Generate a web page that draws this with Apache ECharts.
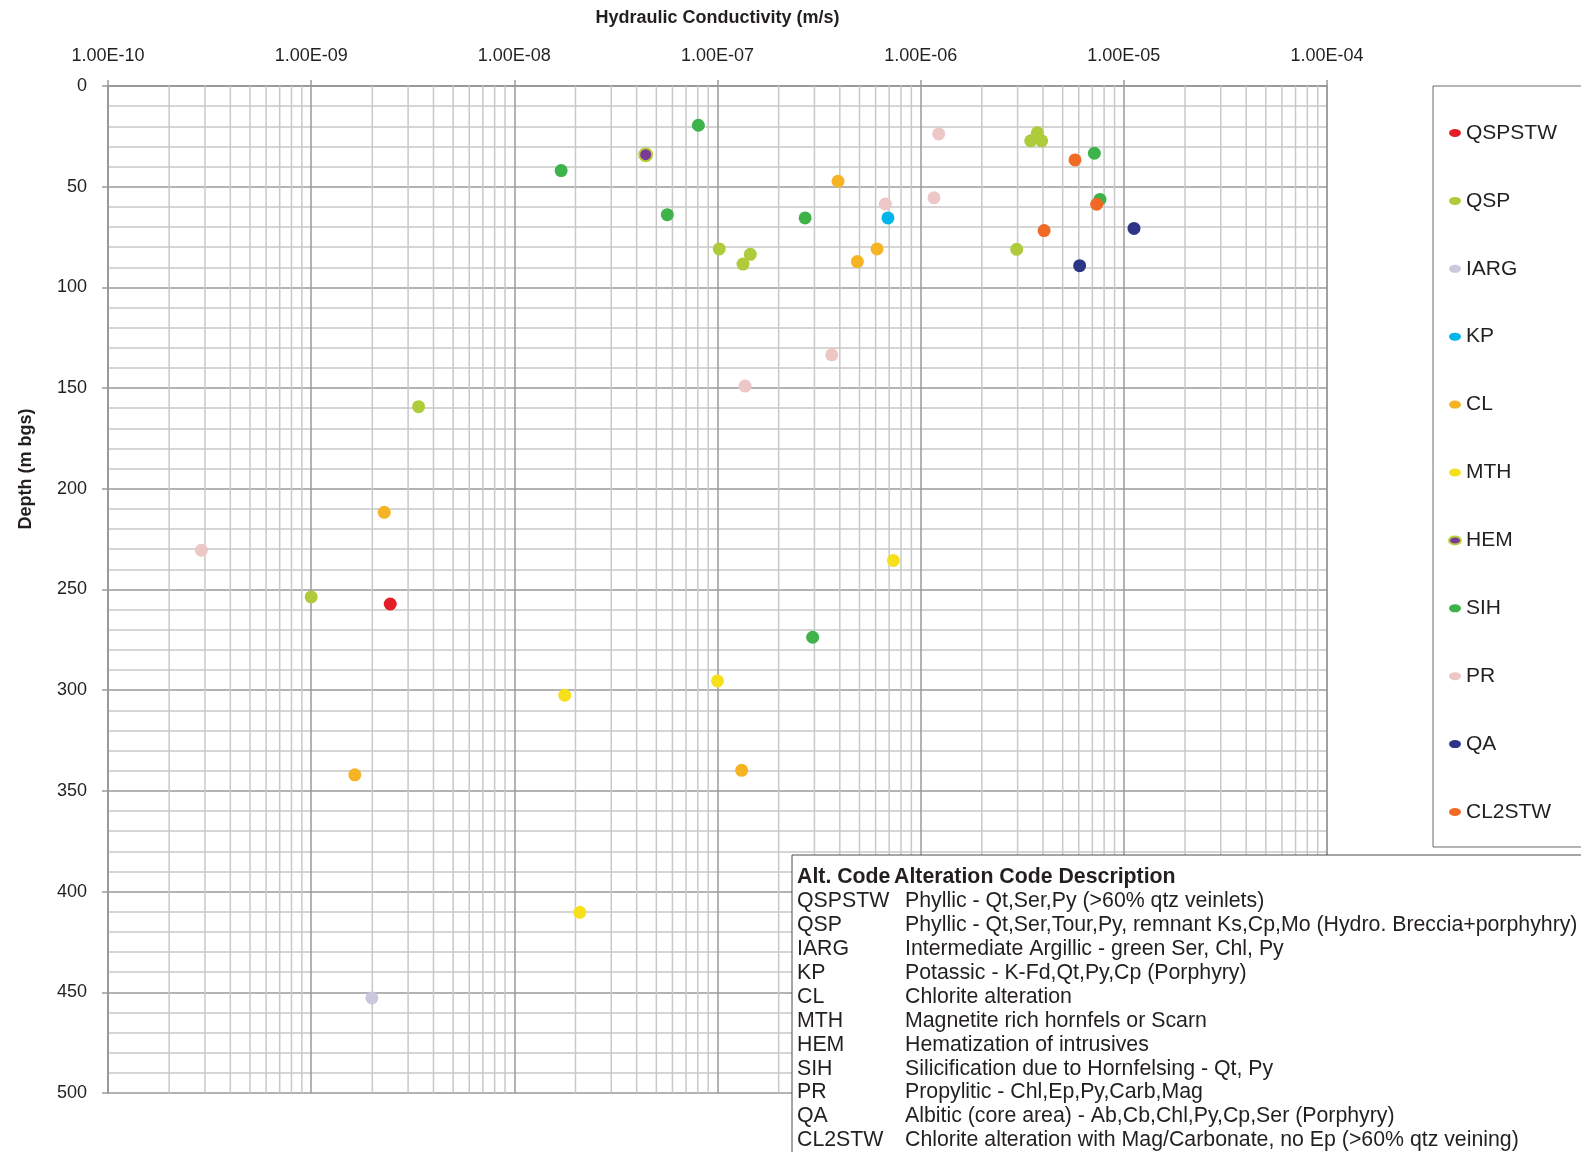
<!DOCTYPE html>
<html>
<head>
<meta charset="utf-8">
<title>Hydraulic Conductivity vs Depth</title>
<script src="https://cdn.jsdelivr.net/npm/echarts@6/dist/echarts.min.js"></script>
<style>
  html, body { margin: 0; padding: 0; background: #fff; }
  #chart { width: 1581px; height: 1152px; }
</style>
</head>
<body>
<div id="chart"></div>
<script>
// Alteration codes (legend order) and their descriptions
const codes = ['QSPSTW', 'QSP', 'IARG', 'KP', 'CL', 'MTH', 'HEM', 'SIH', 'PR', 'QA', 'CL2STW'];
const descriptions = [
  'Phyllic - Qt,Ser,Py (>60% qtz veinlets)',
  'Phyllic - Qt,Ser,Tour,Py, remnant Ks,Cp,Mo (Hydro. Breccia+porphyhry)',
  'Intermediate Argillic - green Ser, Chl, Py',
  'Potassic - K-Fd,Qt,Py,Cp (Porphyry)',
  'Chlorite alteration',
  'Magnetite rich hornfels or Scarn',
  'Hematization of intrusives',
  'Silicification due to Hornfelsing - Qt, Py',
  'Propylitic - Chl,Ep,Py,Carb,Mag',
  'Albitic (core area) - Ab,Cb,Chl,Py,Cp,Ser (Porphyry)',
  'Chlorite alteration with Mag/Carbonate, no Ep (>60% qtz veining)'
];

// [hydraulic conductivity (m/s), depth (m bgs)]
const QSPSTW = [[2.45e-9, 257.2]];
const QSP = [[3.75e-6, 23.2], [3.48e-6, 27.2], [3.94e-6, 27.2], [2.97e-6, 81.1], [1.02e-7, 80.9],
             [1.45e-7, 83.6], [1.335e-7, 88.4], [3.38e-9, 159.2], [1.0e-9, 253.7]];
const IARG = [[1.99e-9, 452.8]];
const KP = [[6.9e-7, 65.5]];
const CL = [[3.92e-7, 47.3], [6.1e-7, 80.9], [4.88e-7, 87.2], [2.29e-9, 211.7], [1.64e-9, 342.0], [1.315e-7, 339.8]];
const MTH = [[7.34e-7, 235.6], [1.0e-7, 295.4], [1.77e-8, 302.5], [2.1e-8, 410.3]];
const HEM = [[4.43e-8, 34.1]];
const SIH = [[8.05e-8, 19.5], [1.7e-8, 42.0], [5.66e-8, 63.9], [2.7e-7, 65.5], [7.16e-6, 33.4],
             [7.63e-6, 56.3], [2.94e-7, 273.7]];
const PR = [[1.227e-6, 23.8], [6.7e-7, 58.6], [1.163e-6, 55.5], [3.65e-7, 133.5], [1.367e-7, 149.0], [2.88e-10, 230.5]];
const QA = [[1.122e-5, 70.7], [6.06e-6, 89.2]];
const CL2STW = [[5.75e-6, 36.7], [4.05e-6, 71.8], [7.35e-6, 58.7]];

const seriesData = [QSPSTW, QSP, IARG, KP, CL, MTH, HEM, SIH, PR, QA, CL2STW];
const colors = ['#e31e26', '#aecb3c', '#c9c8dc', '#00b5e8', '#f6b424', '#f6e01c', '#7a3b96',
                '#3db34a', '#ecc7c6', '#2d3587', '#f06a25'];

// Axis range: decades of conductivity, depth in metres
const kMin = 1e-10, kMax = 1e-4;
const depthMin = 0, depthMax = 500, depthStep = 50;

// Intermediate log gridlines (2..9 × 10^n)
const minorK = [];
for (let e = -10; e < -4; e++) {
  for (let m = 2; m <= 9; m++) minorK.push(m * Math.pow(10, e));
}

const FONT = '"Liberation Sans", Arial, sans-serif';
const minorColor = '#c8c8c8';
const majorColor = '#9a9a9a';

function sciLabel(v) {
  const e = Math.round(Math.log10(v));
  const m = v / Math.pow(10, e);
  const ae = Math.abs(e);
  return m.toFixed(2) + 'E' + (e < 0 ? '-' : '+') + (ae < 10 ? '0' + ae : '' + ae);
}

const series = codes.map((name, i) => {
  const s = {
    name: name,
    type: 'scatter',
    data: seriesData[i],
    symbol: 'circle',
    symbolSize: 13,
    z: 3,
    itemStyle: { color: colors[i], opacity: 1 },
    emphasis: { disabled: true },
    animation: false
  };
  if (name === 'HEM') {
    s.itemStyle.borderColor = '#b9cf3f';
    s.itemStyle.borderWidth = 2;
  }
  return s;
});

// Minor vertical gridlines, placed through the log axis
series.unshift({
  name: 'minorGrid',
  type: 'custom',
  silent: true,
  z: 1,
  animation: false,
  data: minorK.map(v => [v, depthMin]),
  encode: { x: 0, y: 1 },
  renderItem: function (params, api) {
    const v = api.value(0);
    const p1 = api.coord([v, depthMin]);
    const p2 = api.coord([v, depthMax]);
    return {
      type: 'line',
      shape: { x1: p1[0], y1: p1[1], x2: p2[0], y2: p2[1] },
      style: { stroke: minorColor, lineWidth: 1.5 }
    };
  }
});

// Legend frame and table of alteration codes
const tableX = 792, tableY = 855;
const rowTop = 901.4, rowStep = 23.9;
const graphics = [
  { type: 'rect', z: 100, shape: { x: 1433, y: 86, width: 170, height: 761 },
    style: { fill: '#fff', stroke: '#6b6b6b', lineWidth: 1 } },
  { type: 'rect', z: 100, shape: { x: tableX, y: tableY, width: 820, height: 320 },
    style: { fill: '#fff', stroke: '#4d4d4d', lineWidth: 1 } },
  { type: 'text', z: 101, style: { text: 'Alt. Code', x: 797, y: 877.5, font: 'bold 21.3px ' + FONT,
    fill: '#231f20', verticalAlign: 'middle', align: 'left' } },
  { type: 'text', z: 101, style: { text: 'Alteration Code Description', x: 894, y: 877.5, font: 'bold 21.3px ' + FONT,
    fill: '#231f20', verticalAlign: 'middle', align: 'left' } },
  { type: 'text', z: 101, rotation: Math.PI / 2, x: 26, y: 469,
    style: { text: 'Depth (m bgs)', x: 0, y: 0, font: 'bold 18px ' + FONT,
      fill: '#231f20', verticalAlign: 'middle', align: 'center' } }
];
codes.forEach((c, i) => {
  const y = rowTop + i * rowStep;
  graphics.push({ type: 'text', z: 101, style: { text: c, x: 797, y: y, font: '21.3px ' + FONT,
    fill: '#231f20', verticalAlign: 'middle', align: 'left' } });
  graphics.push({ type: 'text', z: 101, style: { text: descriptions[i], x: 905, y: y, font: '21.3px ' + FONT,
    fill: '#231f20', verticalAlign: 'middle', align: 'left' } });
});

const chart = echarts.init(document.getElementById('chart'), null, { renderer: 'canvas' });
chart.setOption({
  backgroundColor: '#fff',
  animation: false,
  textStyle: { fontFamily: FONT },
  grid: { left: 108, right: 254, top: 86, bottom: 59, containLabel: false, outerBoundsMode: 'none' },
  xAxis: {
    type: 'log',
    logBase: 10,
    position: 'top',
    min: kMin,
    max: kMax,
    splitNumber: 6,
    name: 'Hydraulic Conductivity (m/s)',
    nameLocation: 'middle',
    nameGap: 59,
    nameTextStyle: { fontFamily: FONT, fontWeight: 'bold', fontSize: 18, color: '#231f20' },
    axisLine: { show: true, lineStyle: { color: majorColor, width: 2 } },
    axisTick: { show: true, inside: false, length: 6, lineStyle: { color: majorColor, width: 1.5 } },
    axisLabel: { fontFamily: FONT, fontSize: 18, color: '#231f20', margin: 21,
                 showMinLabel: true, showMaxLabel: true, formatter: sciLabel },
    splitLine: { show: true, lineStyle: { color: majorColor, width: 1.5 } }
  },
  yAxis: {
    type: 'value',
    inverse: true,
    min: depthMin,
    max: depthMax,
    interval: depthStep,
    axisLine: { show: true, lineStyle: { color: majorColor, width: 2 } },
    axisTick: { show: true, inside: false, length: 6, lineStyle: { color: majorColor, width: 1.5 } },
    axisLabel: { fontFamily: FONT, fontSize: 18, color: '#231f20', margin: 21 },
    splitLine: { show: true, lineStyle: { color: majorColor, width: 1.5 } },
    minorTick: { show: false, splitNumber: 5 },
    minorSplitLine: { show: true, lineStyle: { color: minorColor, width: 1.5 } }
  },
  legend: {
    show: true,
    orient: 'vertical',
    left: 1443,
    top: 117,
    z: 110,
    selectedMode: false,
    itemGap: 45.9,
    itemWidth: 12,
    itemHeight: 8,
    icon: 'path://M0,4a6,4 0 1,0 12,0a6,4 0 1,0 -12,0',
    textStyle: { fontFamily: FONT, fontSize: 21, lineHeight: 22, color: '#231f20', padding: [0, 0, 0, 0] },
    data: codes
  },
  graphic: graphics,
  series: series
});
</script>
</body>
</html>
